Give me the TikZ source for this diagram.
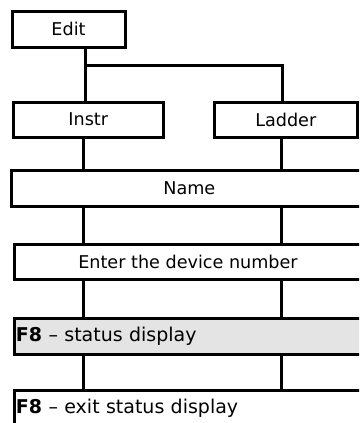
\documentclass[tikz,border=0pt]{standalone}
\usepackage{fontspec}
\setmainfont{DejaVu Sans}
\definecolor{boxgray}{HTML}{E4E4E4}
\tikzset{
  box/.style={draw=black, line width=3pt, inner sep=0pt, anchor=north west,
    font=\fontsize{17.6}{20}\selectfont},
  leftbox/.style={box, align=left, inner xsep=2pt, font=\fontsize{19}{22}\selectfont},
  wire/.style={line width=3pt}
}
\begin{document}
\begin{tikzpicture}[x=1pt,y=-1pt]
\useasboundingbox (0,0) rectangle (359,423);
\clip (0,0) rectangle (359,423);
\node[box, minimum width=113pt, minimum height=35.5pt] (edit) at (10.5,10) {Edit};
\node[box, minimum width=149.5pt, minimum height=35pt] (instr) at (12,100.5) {Instr};
\node[box, minimum width=143.5pt, minimum height=35pt] (ladder) at (212.5,100.5) {Ladder};
\node[box, minimum width=356pt, minimum height=36pt] (name) at (9.8,168.5) {Name};
\node[box, minimum width=348pt, minimum height=35pt] (enter) at (12.5,242.5) {Enter the device number};
\node[leftbox, fill=boxgray, text width=350pt, minimum height=36pt] (stat) at (12.5,316.5) {\textbf{F8} -- status display};
\node[leftbox, text width=350pt, minimum height=36pt] (exit) at (12.5,388.5) {\textbf{F8} -- exit status display};
\coordinate (colE) at (85,0);
\coordinate (colL) at (83,0);
\coordinate (colR) at (281,0);
\coordinate (colB) at (282,0);
\coordinate (br) at (85,65);
\draw[wire] (edit.south -| colE) -- (instr.north -| colE);
\draw[wire] (br) -| (ladder.north -| colB);
\draw[wire] (instr.south -| colL) -- (name.north -| colL);
\draw[wire] (ladder.south -| colR) -- (name.north -| colR);
\draw[wire] (name.south -| colL) -- (enter.north -| colL);
\draw[wire] (name.south -| colR) -- (enter.north -| colR);
\draw[wire] (enter.south -| colL) -- (stat.north -| colL);
\draw[wire] (enter.south -| colR) -- (stat.north -| colR);
\draw[wire] (stat.south -| colL) -- (exit.north -| colL);
\draw[wire] (stat.south -| colR) -- (exit.north -| colR);
\end{tikzpicture}
\end{document}
